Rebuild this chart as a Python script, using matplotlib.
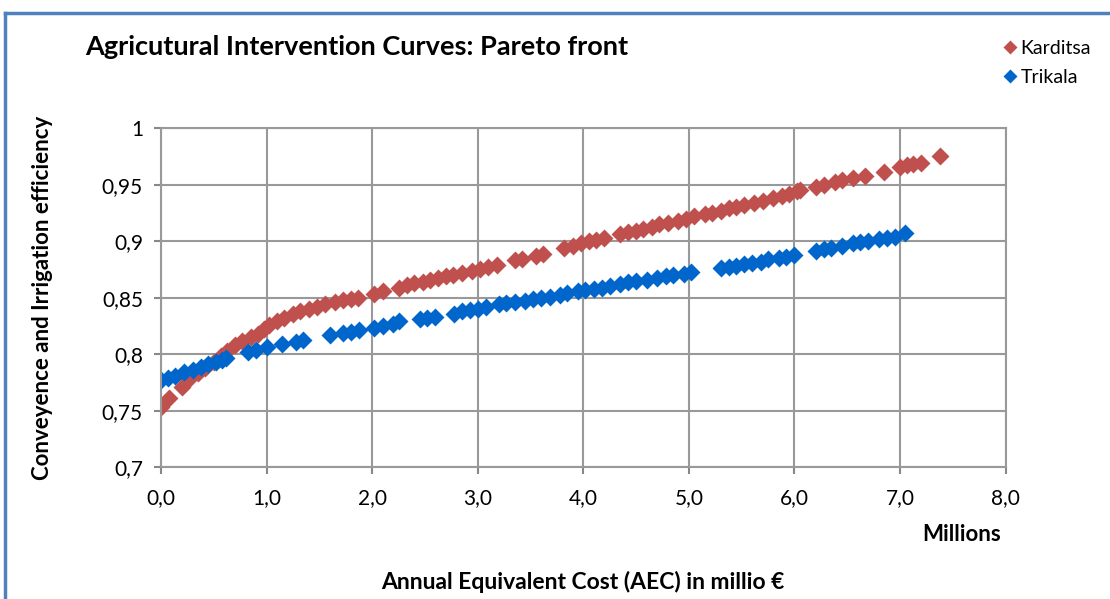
import matplotlib.pyplot as plt
from matplotlib.lines import Line2D
from matplotlib.ticker import FuncFormatter

plt.rcParams['font.family'] = ['Lato', 'DejaVu Sans']

# Karditsa (red) - cost in millions, efficiency
kar_x = [0.0, 0.08, 0.2, 0.27, 0.35, 0.42, 0.5, 0.57, 0.63, 0.7, 0.77, 0.85, 0.92, 0.98,
         1.02, 1.1, 1.17, 1.25, 1.32, 1.4, 1.48, 1.55, 1.65, 1.72, 1.8, 1.87, 2.02, 2.1,
         2.25, 2.33, 2.4, 2.48, 2.55, 2.62, 2.7, 2.77, 2.85, 2.95, 3.02, 3.1, 3.18, 3.35,
         3.42, 3.55, 3.62, 3.82, 3.9, 3.98, 4.05, 4.12, 4.2, 4.35, 4.42, 4.5, 4.57, 4.65,
         4.72, 4.8, 4.9, 4.97, 5.05, 5.15, 5.22, 5.3, 5.38, 5.45, 5.52, 5.62, 5.7, 5.8,
         5.88, 5.95, 6.02, 6.05, 6.2, 6.28, 6.38, 6.45, 6.55, 6.67, 6.85, 7.0, 7.07, 7.12,
         7.2, 7.38]
kar_y = [0.753, 0.761, 0.771, 0.778, 0.783, 0.788, 0.793, 0.798, 0.803, 0.808, 0.812, 0.815,
         0.818, 0.822, 0.826, 0.829, 0.832, 0.836, 0.838, 0.840, 0.842, 0.844, 0.846, 0.848,
         0.849, 0.850, 0.853, 0.856, 0.859, 0.861, 0.863, 0.864, 0.866, 0.867, 0.869, 0.870,
         0.872, 0.874, 0.875, 0.877, 0.879, 0.883, 0.884, 0.887, 0.889, 0.894, 0.896, 0.898,
         0.900, 0.901, 0.903, 0.906, 0.908, 0.909, 0.911, 0.913, 0.915, 0.916, 0.918, 0.920,
         0.922, 0.924, 0.925, 0.927, 0.929, 0.930, 0.932, 0.934, 0.936, 0.938, 0.940, 0.942,
         0.944, 0.945, 0.948, 0.950, 0.952, 0.954, 0.956, 0.958, 0.961, 0.966, 0.967, 0.968,
         0.969, 0.975]

# Trikala (blue)
tri_x = [0.0, 0.07, 0.13, 0.22, 0.3, 0.38, 0.45, 0.52, 0.58, 0.62, 0.82, 0.9, 1.0, 1.15,
         1.28, 1.35, 1.6, 1.72, 1.8, 1.88, 2.02, 2.1, 2.2, 2.25, 2.45, 2.52, 2.6, 2.78,
         2.85, 2.93, 3.0, 3.08, 3.2, 3.27, 3.35, 3.45, 3.52, 3.6, 3.68, 3.78, 3.85, 3.95,
         4.02, 4.1, 4.18, 4.25, 4.35, 4.42, 4.5, 4.6, 4.7, 4.78, 4.85, 4.95, 5.02, 5.3,
         5.38, 5.45, 5.52, 5.6, 5.68, 5.75, 5.85, 5.92, 6.0, 6.2, 6.28, 6.35, 6.45, 6.55,
         6.62, 6.7, 6.8, 6.88, 6.95, 7.05]
tri_y = [0.777, 0.779, 0.781, 0.784, 0.786, 0.789, 0.791, 0.793, 0.795, 0.797, 0.802, 0.804,
         0.806, 0.809, 0.811, 0.813, 0.817, 0.819, 0.820, 0.821, 0.823, 0.825, 0.827, 0.829,
         0.831, 0.832, 0.833, 0.836, 0.838, 0.839, 0.840, 0.842, 0.844, 0.845, 0.846, 0.847,
         0.849, 0.850, 0.851, 0.852, 0.854, 0.856, 0.857, 0.858, 0.859, 0.860, 0.862, 0.864,
         0.865, 0.866, 0.867, 0.869, 0.870, 0.871, 0.873, 0.876, 0.877, 0.878, 0.880, 0.881,
         0.882, 0.884, 0.885, 0.886, 0.888, 0.891, 0.893, 0.894, 0.896, 0.898, 0.899, 0.900,
         0.902, 0.903, 0.904, 0.907]

x_ticks = [0, 1, 2, 3, 4, 5, 6, 7, 8]
y_ticks = [0.7, 0.75, 0.8, 0.85, 0.9, 0.95, 1.0]

red = '#C0504D'
blue = '#0066CC'

fig = plt.figure(figsize=(11.1, 5.99), dpi=100)
ax = fig.add_axes([0.145, 0.220, 0.761, 0.566])

ax.plot(kar_x, kar_y, 'D', color=red, ms=9, mec='none', label='Karditsa')
ax.plot(tri_x, tri_y, 'D', color=blue, ms=9, mec='none', label='Trikala')

ax.set_xlim(0, 8)
ax.set_ylim(0.7, 1.0)
ax.set_xticks(x_ticks)
ax.set_yticks(y_ticks)
ax.xaxis.set_major_formatter(FuncFormatter(lambda v, p: f'{v:.1f}'.replace('.', ',')))
ax.yaxis.set_major_formatter(FuncFormatter(lambda v, p: f'{v:g}'.replace('.', ',')))
ax.tick_params(labelsize=15, color='#888888', length=5, width=1.5)
ax.tick_params(axis='x', pad=10)
ax.tick_params(axis='y', pad=8)
ax.grid(True, color='#999999', lw=1.5)
ax.set_axisbelow(True)
for s in ax.spines.values():
    s.set_color('#999999')
    s.set_linewidth(1.5)

ax.set_ylabel('Conveyence and Irrigation efficiency', fontsize=16, fontweight='bold')
ax.yaxis.set_label_coords(-0.128, 0.5)

fig.text(0.077, 0.921, 'Agricutural Intervention Curves: Pareto front', fontsize=19.5,
         fontweight='bold', va='center', ha='left')
fig.text(0.866, 0.107, 'Millions', fontsize=16, fontweight='bold', ha='center', va='center')
fig.text(0.525, 0.028, 'Annual Equivalent Cost (AEC) in millio €', fontsize=16.5,
         fontweight='bold', ha='center', va='center')

fig.legend(loc='upper left', bbox_to_anchor=(0.885, 0.962), frameon=False, fontsize=14,
           handletextpad=0.05, handlelength=1.0, labelspacing=0.6, markerscale=0.8)

# blue frame at the left and top
fig.add_artist(Line2D([0.0045, 0.0045], [0, 0.979], color='#4F81BD', lw=2.5,
                      transform=fig.transFigure))
fig.add_artist(Line2D([0.0045, 1.0], [0.979, 0.979], color='#4F81BD', lw=2.5,
                      transform=fig.transFigure))

fig.savefig('out.png', dpi=100)
